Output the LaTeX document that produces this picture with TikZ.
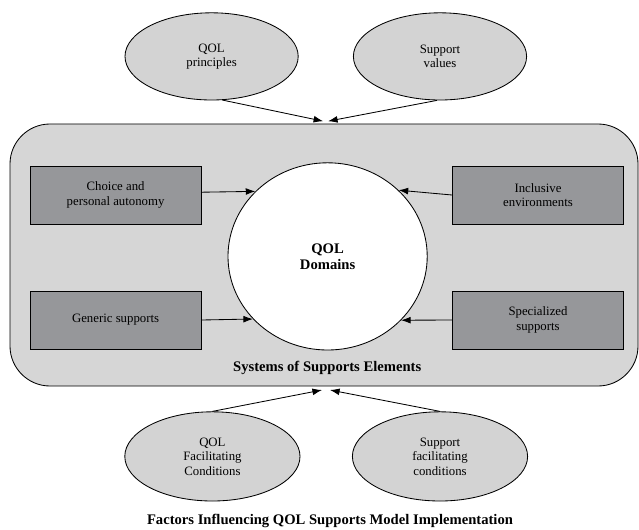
\documentclass[tikz,border=0pt]{standalone}
\usepackage{fontspec}
\setmainfont{Liberation Serif}
\usetikzlibrary{arrows.meta,shapes.geometric}

\definecolor{ovalgray}{RGB}{211,211,211}
\definecolor{panelgray}{RGB}{214,214,214}
\definecolor{boxgray}{RGB}{150,151,154}

\begin{document}
\begin{tikzpicture}[>={Latex[length=2.4mm,width=1.7mm]},line width=0.6pt,
    font=\fontsize{9.1}{10.3}\selectfont,
    factor/.style={ellipse,draw,fill=ovalgray,inner sep=0pt,align=center,
      minimum width=4.33cm,minimum height=2.18cm},
    element/.style={rectangle,draw,fill=boxgray,align=center,
      minimum width=4.28cm,minimum height=1.45cm},
    boldlabel/.style={font=\fontsize{10.4}{11.6}\selectfont\bfseries,align=center}]
  \useasboundingbox (0,0) rectangle (15.975,-13.225);
  % factors above
  \node[factor] (qolprin) at (5.29,-1.41) {QOL\\principles};
  \node[factor] (suppval) at (11.0,-1.41) {Support\\values};
  % the systems of supports panel
  \node[draw,fill=panelgray,rounded corners=1cm,minimum width=15.7cm,
    minimum height=6.55cm] (panel) at (8.1,-6.375) {};
  \node[ellipse,draw,fill=white,inner sep=0pt,minimum width=4.98cm,
    minimum height=4.68cm,boldlabel] (domains) at (8.19,-6.41) {QOL\\Domains};
  \node[element] (choice) at (2.89,-4.875) {Choice and\\personal autonomy};
  \node[element] (generic) at (2.89,-8.0) {Generic supports};
  \node[element] (inclusive) at (13.45,-4.875) {Inclusive\\environments};
  \node[element] (special) at (13.45,-8.0) {Specialized\\supports};
  \node[boldlabel] (sysname) at (8.18,-9.2) {Systems of Supports Elements};
  \draw[->] ([yshift=0.07cm]choice.east) -- (domains.138);
  \draw[->] (generic.east) -- (domains.220);
  \draw[->] (inclusive.west) -- (domains.43);
  \draw[->] (special.west) -- (domains.-41);
  % factors below
  \node[factor,minimum width=4.38cm,minimum height=2.23cm] (qolfac) at (5.31,-11.41)
    {QOL\\Facilitating\\Conditions};
  \node[factor,minimum width=4.38cm,minimum height=2.23cm] (suppfac) at (11.0,-11.41)
    {Support\\facilitating\\conditions};
  % arrows meet just outside the panel
  \coordinate (topl) at (8.08,-3.03);
  \coordinate (topr) at (8.2,-3.03);
  \coordinate (botl) at (8.05,-9.75);
  \coordinate (botr) at (8.25,-9.75);
  \draw[->] (qolprin.-76) -- (topl);
  \draw[->] (suppval.-94) -- (topr);
  \draw[->] (qolfac.north) -- (botl);
  \draw[->] (suppfac.north) -- (botr);
  \node[boldlabel] (caption) at (8.25,-13.02)
    {Factors Influencing QOL Supports Model Implementation};
\end{tikzpicture}
\end{document}
